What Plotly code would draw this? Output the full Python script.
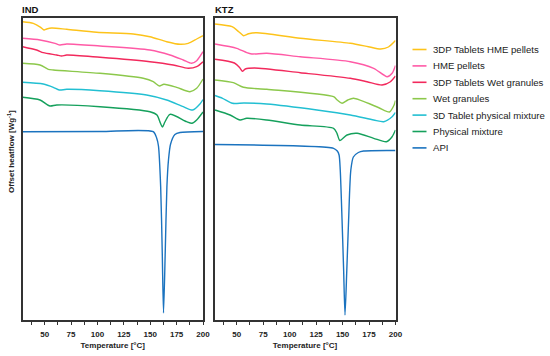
import plotly.graph_objects as go

# ---------------- data ----------------
series_names = [
    "3DP Tablets HME pellets",
    "HME pellets",
    "3DP Tablets Wet granules",
    "Wet granules",
    "3D Tablet physical mixture",
    "Physical mixture",
    "API",
]
series_colors = ["#FDC31A", "#FF5AA6", "#F2295C", "#8CC84B", "#22BFD2", "#15A05C", "#1B73BF"]

panel_titles = ["IND", "KTZ"]
x_tick_values = [50, 75, 100, 125, 150, 175, 200]
x_minor_values = [37.5, 62.5, 87.5, 112.5, 137.5, 162.5, 187.5]

# IND panel: temperature [°C] and offset heat flow (arbitrary offset units)
ind_t_tab_hme = [29.2, 39.2, 46.2, 49.4, 51.9, 56.7, 70.9, 99.3, 133.9, 149.7, 165.6, 178.2, 186.0, 194.0, 200.0]
ind_hf_tab_hme = [298.3, 296.7, 292.7, 290.0, 291.0, 292.0, 290.7, 287.7, 286.0, 283.3, 278.3, 275.7, 276.7, 281.0, 284.3]

ind_t_hme = [29.2, 45.6, 59.8, 64.5, 70.9, 102.4, 149.7, 168.7, 181.3, 189.2, 194.0, 200.0]
ind_hf_hme = [281.7, 280.0, 276.7, 275.0, 276.0, 274.0, 270.0, 265.0, 260.0, 256.7, 259.3, 268.3]

ind_t_tab_wet = [29.2, 42.4, 48.7, 61.4, 66.1, 70.9, 102.4, 149.7, 171.8, 186.0, 194.0, 200.0]
ind_hf_tab_wet = [273.3, 270.0, 267.3, 265.0, 264.0, 265.0, 262.7, 258.3, 255.0, 251.7, 253.3, 258.3]

ind_t_wet = [29.2, 45.6, 53.4, 58.2, 102.4, 143.4, 152.9, 158.7, 163.0, 175.0, 187.6, 194.0, 200.0]
ind_hf_wet = [256.7, 255.0, 250.7, 250.0, 246.7, 241.7, 238.3, 234.0, 235.7, 232.7, 228.3, 231.7, 241.0]

ind_t_tab_pm = [29.2, 48.7, 58.2, 63.8, 70.9, 102.4, 146.6, 165.6, 181.3, 190.2, 197.1, 200.0]
ind_hf_tab_pm = [237.7, 236.0, 232.7, 230.0, 230.7, 229.3, 225.0, 220.0, 213.3, 210.0, 216.0, 220.5]

ind_t_pm = [29.2, 45.6, 55.0, 61.4, 102.4, 149.7, 156.4, 159.7, 161.6, 163.9, 168.7, 184.5, 189.5, 194.0, 200.0]
ind_hf_pm = [222.7, 220.0, 214.0, 215.0, 213.3, 208.3, 205.0, 196.7, 193.0, 198.0, 205.7, 198.3, 196.7, 200.0, 208.0]

ind_t_api = [29.2, 102.4, 152.9, 156.1, 157.8, 159.9, 161.4, 162.6, 164.2, 165.8, 167.3, 169.3, 173.4, 178.2, 200.0]
ind_hf_api = [188.3, 188.5, 188.3, 182.0, 174.0, 133.3, 67.0, 7.0, 67.0, 133.3, 160.0, 176.0, 185.5, 187.5, 188.5]

# KTZ panel
ktz_t_tab_hme = [29.5, 45.6, 51.9, 56.5, 61.2, 69.0, 110.0, 157.3, 174.4, 186.0, 193.3, 200.0]
ktz_hf_tab_hme = [296.0, 293.3, 288.3, 284.3, 286.3, 287.3, 281.7, 276.7, 273.3, 271.0, 273.0, 279.5]

ktz_t_hme = [29.5, 50.0, 59.5, 64.2, 78.4, 110.0, 157.3, 179.4, 192.1, 196.8, 200.0]
ktz_hf_hme = [276.0, 271.7, 267.3, 266.0, 266.7, 263.3, 258.3, 251.7, 243.3, 246.7, 254.5]

ktz_t_tab_wet = [29.5, 47.8, 52.7, 55.3, 58.1, 66.7, 110.0, 157.3, 173.1, 187.3, 195.2, 200.0]
ktz_hf_tab_wet = [260.7, 257.0, 252.5, 248.7, 251.0, 252.0, 247.3, 241.7, 238.3, 235.0, 238.3, 244.0]

ktz_t_wet = [29.5, 46.8, 56.3, 78.4, 141.5, 145.0, 149.5, 154.9, 160.4, 183.8, 194.3, 198.7, 200.0]
ktz_hf_wet = [240.0, 237.3, 232.7, 230.7, 223.3, 220.0, 216.7, 220.0, 221.7, 212.5, 208.0, 215.0, 219.5]

ktz_t_tab_pm = [29.5, 36.6, 46.0, 56.9, 78.4, 125.8, 157.3, 179.4, 188.9, 196.8, 200.0]
ktz_hf_tab_pm = [224.5, 221.7, 216.7, 217.0, 216.0, 210.0, 205.0, 200.0, 198.3, 203.3, 207.5]

ktz_t_pm = [29.5, 43.7, 53.1, 59.5, 78.4, 110.0, 141.5, 144.7, 147.4, 154.2, 163.7, 179.4, 191.4, 196.8, 200.0]
ktz_hf_pm = [210.0, 205.0, 200.0, 201.7, 200.0, 195.0, 191.7, 186.7, 179.5, 185.0, 186.7, 181.7, 178.3, 183.3, 190.0]

ktz_t_api = [29.5, 141.5, 145.0, 146.7, 147.8, 149.5, 151.0, 152.3, 154.0, 155.7, 157.8, 160.2, 164.9, 169.9, 200.0]
ktz_hf_api = [175.5, 171.7, 169.0, 165.0, 150.0, 100.0, 50.0, 5.0, 50.0, 100.0, 150.0, 163.0, 167.5, 169.0, 169.5]

ind_series = [
    (ind_t_tab_hme, ind_hf_tab_hme), (ind_t_hme, ind_hf_hme), (ind_t_tab_wet, ind_hf_tab_wet),
    (ind_t_wet, ind_hf_wet), (ind_t_tab_pm, ind_hf_tab_pm), (ind_t_pm, ind_hf_pm), (ind_t_api, ind_hf_api),
]
ktz_series = [
    (ktz_t_tab_hme, ktz_hf_tab_hme), (ktz_t_hme, ktz_hf_hme), (ktz_t_tab_wet, ktz_hf_tab_wet),
    (ktz_t_wet, ktz_hf_wet), (ktz_t_tab_pm, ktz_hf_tab_pm), (ktz_t_pm, ktz_hf_pm), (ktz_t_api, ktz_hf_api),
]

# ---------------- figure ----------------
W, H = 550, 356
FONT = "Liberation Sans, Arial, Helvetica, sans-serif"

fig = go.Figure()
for (xs, ys), name, color in zip(ind_series, series_names, series_colors):
    fig.add_trace(go.Scatter(x=xs, y=ys, mode="lines", name=name, xaxis="x", yaxis="y",
                             line=dict(color=color, width=1.4, shape="spline", smoothing=0.7),
                             showlegend=False))
for (xs, ys), name, color in zip(ktz_series, series_names, series_colors):
    fig.add_trace(go.Scatter(x=xs, y=ys, mode="lines", name=name, xaxis="x2", yaxis="y2",
                             line=dict(color=color, width=1.4, shape="spline", smoothing=0.7),
                             showlegend=False))

def px_x(p):
    return p / W

def px_y(p):
    return 1 - p / H

x_common = dict(
    range=[29, 200], tickmode="array", tickvals=x_tick_values, ticks="outside", ticklen=3,
    tickwidth=1, tickcolor="#333333", showline=True, mirror=True, linecolor="#333333",
    linewidth=1.7, showgrid=False, zeroline=False, automargin=False, ticklabelstandoff=3,
    tickfont=dict(family=FONT, size=8, color="#222222", weight="bold"),
    minor=dict(ticks="outside", ticklen=3, tickwidth=1, tickcolor="#333333",
               tickmode="array", tickvals=x_minor_values),
    title=dict(text="Temperature [°C]", font=dict(family=FONT, size=8, color="#222222", weight="bold"),
               standoff=4),
)
y_common = dict(
    range=[0, 302], showticklabels=False, ticks="", showgrid=False, zeroline=False,
    showline=True, mirror=True, linecolor="#333333", linewidth=1.7, automargin=False,
    domain=[px_y(320), px_y(18)],
)

fig.update_layout(
    width=W, height=H, margin=dict(l=0, r=0, t=0, b=0, autoexpand=False),
    paper_bgcolor="white", plot_bgcolor="white", showlegend=False,
    xaxis=dict(domain=[px_x(22.5), px_x(203)], anchor="y", **x_common),
    yaxis=dict(anchor="x", **y_common),
    xaxis2=dict(domain=[px_x(214.5), px_x(395.5)], anchor="y2", **x_common),
    yaxis2=dict(anchor="x2", **y_common),
)

annotations = [
    dict(text=f"<b>{panel_titles[0]}</b>", x=px_x(20), y=px_y(10), xref="paper", yref="paper",
         xanchor="left", yanchor="middle", showarrow=False,
         font=dict(family=FONT, size=9.5, color="#111111")),
    dict(text=f"<b>{panel_titles[1]}</b>", x=px_x(213), y=px_y(10), xref="paper", yref="paper",
         xanchor="left", yanchor="middle", showarrow=False,
         font=dict(family=FONT, size=9.5, color="#111111")),
    dict(text="<b>Offset heatflow [Wg<sup>-1</sup>]</b>", x=px_x(11), y=px_y(152), xref="paper", yref="paper",
         xanchor="center", yanchor="middle", textangle=-90, showarrow=False,
         font=dict(family=FONT, size=8, color="#222222")),
]

# manual legend (short line swatches, as in the reference)
shapes = []
for i, (name, color) in enumerate(zip(series_names, series_colors)):
    yc = 49.5 + 16.4 * i
    shapes.append(dict(type="line", xref="paper", yref="paper",
                       x0=px_x(412.5), x1=px_x(426.5), y0=px_y(yc), y1=px_y(yc),
                       line=dict(color=color, width=1.6)))
    annotations.append(dict(text=name, x=px_x(430.5), y=px_y(yc), xref="paper", yref="paper",
                            xanchor="left", yanchor="middle", showarrow=False,
                            font=dict(family=FONT, size=9.6, color="#222222")))

fig.update_layout(annotations=annotations, shapes=shapes)

fig.write_html("out.html", config={"displayModeBar": False},
               post_script="document.body.style.margin='0px';")
